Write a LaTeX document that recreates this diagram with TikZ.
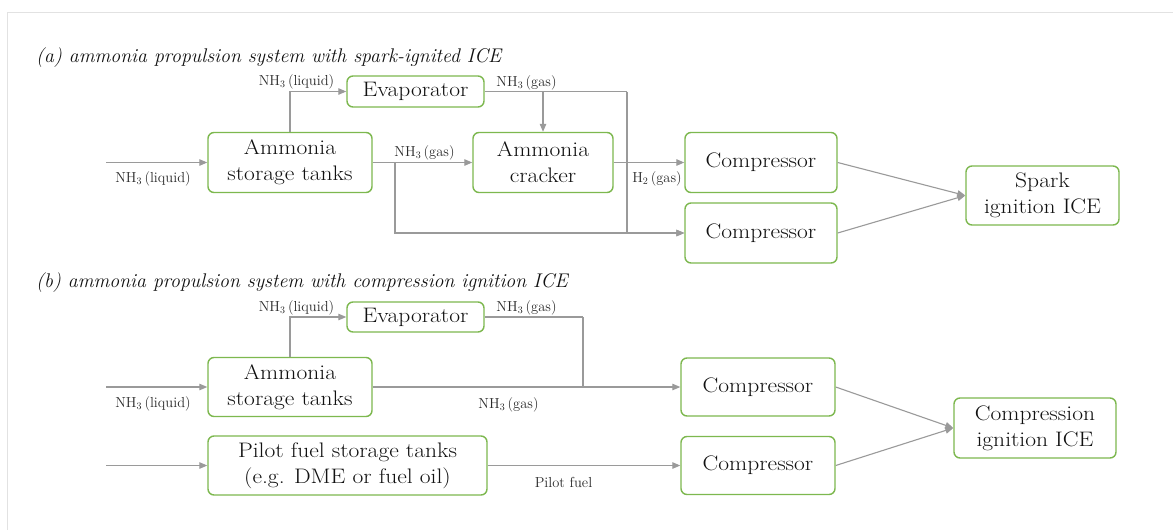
\documentclass[tikz,border=0pt]{standalone}
\usetikzlibrary{arrows.meta}
\definecolor{boxgreen}{HTML}{7DB84F}
\definecolor{linegray}{HTML}{9A9A9A}
\definecolor{framegray}{HTML}{E2E2E2}
\definecolor{txt}{HTML}{111111}
\definecolor{lbl}{HTML}{2A2A2A}
\newcommand{\sx}[1]{\scalebox{1.12}[1]{#1}}
\begin{document}
\begin{tikzpicture}[x=1pt,y=-1pt,
  box/.style={draw=boxgreen, line width=1.4pt, rounded corners=6pt, fill=white,
    inner sep=0pt, align=center, text=txt,
    font=\fontsize{21}{26}\selectfont},
  arr/.style={draw=linegray, line width=1.1pt, -{Triangle[length=8pt,width=6.5pt]}},
  ln/.style={draw=linegray, line width=1.1pt},
  lab/.style={text=lbl, inner sep=0pt, font=\fontsize{14.5}{16}\selectfont},
  ttl/.style={anchor=west, inner sep=0pt, text=txt, font=\fontsize{19.8}{22}\selectfont\itshape}
]
\useasboundingbox (0,0) rectangle (1173,530);
\fill[white] (0,0) rectangle (1173,530);
\draw[framegray, line width=1pt] (7,530) -- (7,12) -- (1173,12);

% ---------- (a) ----------
\node[ttl] (titleA) at (36,58) {(a) ammonia propulsion system with spark-ignited ICE};

\node[box, minimum width=137pt, minimum height=31pt] (evapA) at (415.5,91.5) {\sx{Evaporator}};
\node[box, minimum width=164pt, minimum height=60pt] (storA) at (290,162.5) {\sx{Ammonia}\\\sx{storage tanks}};
\node[box, minimum width=140pt, minimum height=60pt] (crackA) at (543,162.5) {\sx{Ammonia}\\\sx{cracker}};
\node[box, minimum width=152pt, minimum height=60pt] (comp1A) at (761,162.5) {\sx{Compressor}};
\node[box, minimum width=152pt, minimum height=60pt] (comp2A) at (761,233) {\sx{Compressor}};
\node[box, minimum width=153pt, minimum height=59pt] (sparkA) at (1042.5,195.5) {\sx{Spark}\\\sx{ignition ICE}};

\coordinate (inA) at (106,162.5);
\coordinate (jA) at (627,91.5);
\coordinate (bA) at (395,162.5);

\draw[arr] (inA) -- (storA.west);
\draw[arr] (storA.north) |- (evapA.west);
\draw[ln] (evapA.east) -- (jA);
\draw[arr] (jA) |- (comp2A.west);
\draw[arr] (crackA.north |- evapA.east) -- (crackA.north);
\draw[arr] (storA.east) -- (crackA.west);
\draw[arr] (bA) |- (comp2A.west);
\draw[arr] (crackA.east) -- (comp1A.west);
\draw[arr] (comp1A.east) -- (sparkA.west);
\draw[arr] (comp2A.east) -- (sparkA.west);

\node[lab] (la1) at (296.5,82) {NH$_3$\,(liquid)};
\node[lab] (la2) at (526.5,83) {NH$_3$\,(gas)};
\node[lab] (la3) at (424.5,153) {NH$_3$\,(gas)};
\node[lab] (la4) at (153,179) {NH$_3$\,(liquid)};
\node[lab] (la5) at (657,179) {H$_2$\,(gas)};

% ---------- (b) ----------
\node[ttl] (titleB) at (36,283) {(b) ammonia propulsion system with compression ignition ICE};

\node[box, minimum width=137pt, minimum height=30pt] (evapB) at (415.5,317) {\sx{Evaporator}};
\node[box, minimum width=164pt, minimum height=59pt] (storB) at (290,387) {\sx{Ammonia}\\\sx{storage tanks}};
\node[box, minimum width=279pt, minimum height=59pt] (pilot) at (347.5,465.5) {\sx{Pilot fuel storage tanks}\\\sx{(e.g. DME or fuel oil)}};
\node[box, minimum width=154pt, minimum height=58pt] (comp1B) at (758,387) {\sx{Compressor}};
\node[box, minimum width=154pt, minimum height=58pt] (comp2B) at (758,465.5) {\sx{Compressor}};
\node[box, minimum width=162pt, minimum height=60pt] (ciceB) at (1035,428) {\sx{Compression}\\\sx{ignition ICE}};

\coordinate (inB) at (106,387);
\coordinate (inP) at (106,465.5);
\coordinate (jB) at (583,317);

\draw[arr] (inB) -- (storB.west);
\draw[arr] (storB.north) |- (evapB.west);
\draw[ln] (evapB.east) -- (jB);
\draw[ln] (jB) -- (jB |- storB.east);
\draw[arr] (storB.east) -- (comp1B.west);
\draw[arr] (inP) -- (pilot.west);
\draw[arr] (pilot.east) -- (comp2B.west);
\draw[arr] (comp1B.east) -- (ciceB.west);
\draw[arr] (comp2B.east) -- (ciceB.west);

\node[lab] (lb1) at (296.5,308) {NH$_3$\,(liquid)};
\node[lab] (lb2) at (526.5,308) {NH$_3$\,(gas)};
\node[lab] (lb3) at (153,404) {NH$_3$\,(liquid)};
\node[lab] (lb4) at (508.5,405) {NH$_3$\,(gas)};
\node[lab] (lb5) at (563.5,482) {Pilot fuel};
\end{tikzpicture}
\end{document}
